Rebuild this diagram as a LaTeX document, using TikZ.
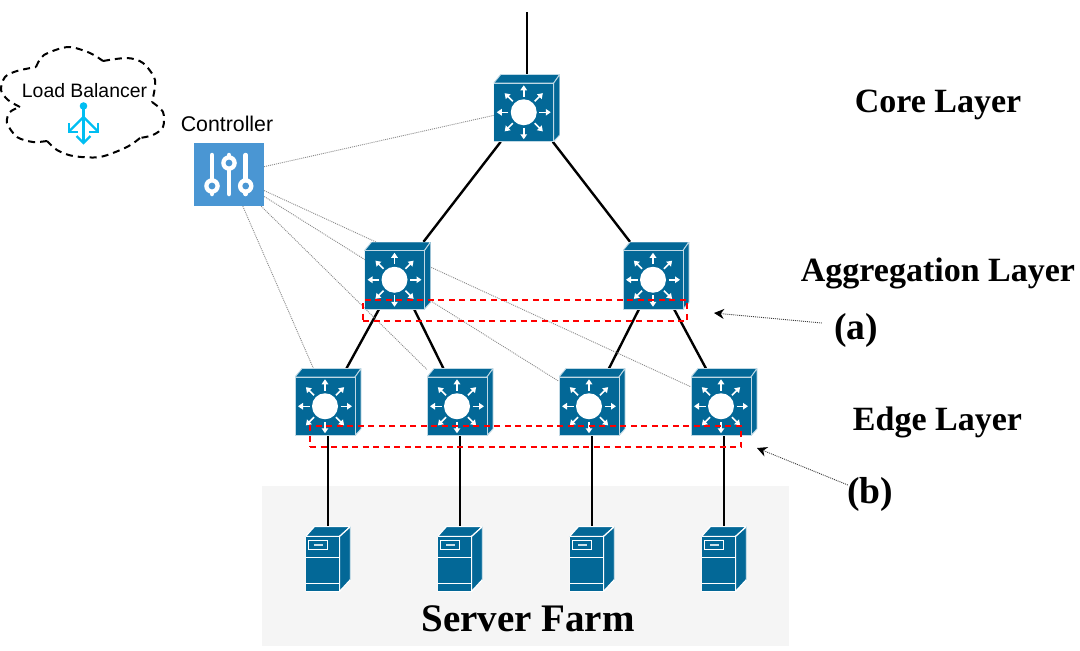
\documentclass[tikz,border=0pt]{standalone}
\usepackage{fontspec}
\setmainfont{Liberation Serif}
\newfontfamily\arialfont{Liberation Sans}
\usepackage{xcolor}
\usepackage{tikz}
\usetikzlibrary{positioning}
\usetikzlibrary{backgrounds}
\usetikzlibrary{arrows.meta}
\definecolor{cisco}{HTML}{036897}
\definecolor{ctrlblue}{HTML}{4A96D3}
\definecolor{lbcyan}{HTML}{00BEF2}
\definecolor{farmgray}{HTML}{F5F5F5}
\colorlet{faceline}{white!75!cisco}
\newcommand{\switchicon}{
  \begin{scope}[shift={(path picture bounding box.center)}]
    \draw[fill=cisco,draw=faceline,line width=0.9pt] (-33,-25) -- (-26,-33.5) -- (33,-33.5) -- (27,-25) -- cycle;
    \draw[fill=cisco,draw=faceline,line width=0.9pt] (27,-25) -- (33,-33.5) -- (33,27) -- (27,33.5) -- cycle;
    \draw[fill=cisco,draw=faceline,line width=0.9pt] (-33,-25) rectangle (27,33.5);
    \fill[white] (-3,4.25) circle (13);
    \foreach \a in {0,45,...,315}
      \draw[white,line width=1.5pt,-{Triangle[length=5pt,width=6.5pt]}] (-3,4.25) ++(\a:15.5) -- ++(\a:11.5);
  \end{scope}
}
\newcommand{\servericon}{
  \begin{scope}[shift={(path picture bounding box.center)}]
    \draw[fill=cisco,draw=white,line width=1.2pt] (-22.5,-22.5) -- (-13.5,-32.5) -- (22.5,-32.5) -- (11.5,-22.5) -- cycle;
    \draw[fill=cisco,draw=white,line width=1.2pt] (11.5,-22.5) -- (22.5,-32.5) -- (22.5,20.5) -- (11.5,32.5) -- cycle;
    \draw[fill=cisco,draw=white,line width=1.2pt] (-22.5,-22.5) rectangle (11.5,32.5);
    \draw[white,line width=1.4pt] (-22.5,-1.5) -- (11.5,-1.5);
    \draw[white,line width=1.4pt] (-22.5,24.5) -- (11.5,24.5);
    \draw[white,line width=1.4pt] (-19.5,-18.5) rectangle (-0.5,-9.5);
    \fill[white!80!cisco] (-14.5,-15.2) rectangle (-5.5,-12.8);
  \end{scope}
}
\newcommand{\slidericon}{
  \begin{scope}[shift={(path picture bounding box.center)}]
    \foreach \sx/\sy in {-17/11.5,0/-11.5,16.7/11.5} {
      \draw[white,line width=4.5pt,line cap=round] (\sx,-19.5) -- (\sx,19.5);
      \fill[white] (\sx,\sy) circle (7.8);
      \fill[ctrlblue] (\sx,\sy) circle (3.4);
    }
  \end{scope}
}
\tikzset{
  % node options
  switch/.style={rectangle,inner sep=0pt,minimum width=66pt,minimum height=67pt,path picture={\switchicon}},
  server/.style={rectangle,inner sep=0pt,minimum width=45pt,minimum height=65pt,path picture={\servericon}},
  controller/.style={rectangle,fill=ctrlblue,inner sep=0pt,minimum width=70pt,minimum height=63pt,path picture={\slidericon}},
  farm/.style={rectangle,fill=farmgray,inner sep=0pt,minimum width=527pt,minimum height=160pt},
  sanslabel/.style={font=\arialfont\fontsize{#1}{#1}\selectfont,inner sep=0pt},
  layerlabel/.style={font=\bfseries\fontsize{34}{34}\selectfont,inner sep=0pt},
  marklabel/.style={font=\bfseries\fontsize{37.6}{38}\selectfont,inner sep=0pt},
  redbox/.style={rectangle,draw=red,line width=2.2pt,dash pattern=on 6pt off 4.5pt,inner sep=0pt},
  % path options
  link/.style={line width=2.4pt,black},
  ctrllink/.style={line width=0.9pt,gray!90,dash pattern=on 1pt off 1pt},
  pointer/.style={line width=0.9pt,black!75,dash pattern=on 1pt off 1pt,-{Stealth[length=10pt,width=10pt,black]}},
  lbicon/.style={line width=2.4pt,lbcyan},
}

\begin{document}
\begin{tikzpicture}[x=1pt,y=-1pt]
  \useasboundingbox (0,0) rectangle (1080,651);
  \matrix (upper) at (526.75,191.75) [row sep=100.5pt,column sep=63.25pt,inner sep=0pt] {
    & \node[switch] (core) {}; & \\
    \node[switch] (agg1) {}; & & \node[switch] (agg2) {}; \\
  };
  \matrix (lower) at (526,480) [row sep=91pt,column sep=66pt,inner sep=0pt] {
    \node[switch] (edge1) {}; & \node[switch] (edge2) {}; & \node[switch] (edge3) {}; & \node[switch] (edge4) {}; \\
    \node[server] (srv1) {}; & \node[server] (srv2) {}; & \node[server] (srv3) {}; & \node[server] (srv4) {}; \\
  };
  \node[controller] (ctrl) at (229,174.5) {};
  \node[sanslabel=21.3,above=11pt of ctrl,xshift=-2pt] (ctrlname) {Controller};
  % load balancer cloud
  \draw[line width=2pt,dash pattern=on 7pt off 5pt]
    plot[smooth] coordinates {(36,67) (44,55) (68,47) (90,53) (103,61)}
    plot[smooth] coordinates {(103,61) (127,58) (143,63) (155,80) (152,102)}
    plot[smooth] coordinates {(152,102) (163,112) (163,127) (153,135) (140,138)}
    plot[smooth] coordinates {(140,138) (127,147) (100,157) (73,156) (57,150) (47,141)}
    plot[smooth] coordinates {(47,141) (33,142) (17,137) (7,123) (10,112) (20,107)}
    plot[smooth] coordinates {(20,107) (8,100) (1,90) (5,77) (17,71) (36,67)};
  \node[sanslabel=19.4] (lbname) at (84.5,91) {Load Balancer};
  \fill[lbcyan] (83.5,106) circle (3.8);
  \draw[lbicon] (83.5,106) -- (83.5,142);
  \draw[lbicon] (69.5,131) -- (83.5,117) -- (97.5,131);
  \draw[lbicon] (69,123) -- (69,132) -- (78,132);
  \draw[lbicon] (98,123) -- (98,132) -- (89,132);
  \draw[lbicon] (76.5,136) -- (83.5,143) -- (90.5,136);
  % layer names
  \node[layerlabel] (corename) at (938,105) {Core Layer};
  \node[layerlabel] (aggname) at (938,273) {Aggregation Layer};
  \node[layerlabel] (edgename) at (937.5,422) {Edge Layer};
  \node[font=\bfseries\fontsize{39}{39}\selectfont,inner sep=0pt] (farmname) at (528,619) {Server Farm};
  \node[marklabel] (marka) at (856,330) {(a)};
  \node[marklabel] (markb) at (870,494) {(b)};
  % red frames
  \node[redbox,minimum width=324pt,minimum height=21pt] (framea) at (525,310.5) {};
  \node[redbox,minimum width=431pt,minimum height=21pt] (frameb) at (525.5,436.5) {};
  \coordinate (uplink) at (526.75,12);
  \coordinate (tipa) at (714,313);
  \coordinate (tipb) at (757,448);
  \draw[pointer] ([xshift=-12pt,yshift=7pt]marka.west) -- (tipa);
  \draw[pointer] ([xshift=1pt,yshift=9pt]markb.west) -- (tipb);
  \begin{scope}[on background layer]
    \node[farm] (farmbox) at (525.5,566) {};
    \draw[link] (uplink) -- (core);
    \draw[link] (core) -- (agg1);
    \draw[link] (core) -- (agg2);
    \draw[link] (agg1) -- (edge1);
    \draw[link] (agg1) -- (edge2);
    \draw[link] (agg2) -- (edge3);
    \draw[link] (agg2) -- (edge4);
    \foreach \i in {1,2,3,4}
      \draw[link] (edge\i) -- (srv\i);
    \draw[ctrllink] (ctrl) -- (core);
    \foreach \i in {1,2,3,4}
      \draw[ctrllink] (ctrl) -- (edge\i);
  \end{scope}
\end{tikzpicture}
\end{document}
